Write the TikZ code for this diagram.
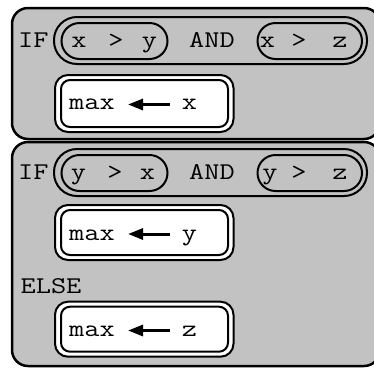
\documentclass[tikz,border=0pt]{standalone}
\usepackage{fontspec}
\usepackage{graphicx}
\usetikzlibrary{arrows.meta}
\definecolor{boxgray}{RGB}{194,194,194}
\newcommand{\wtxt}[1]{\scalebox{1.23}[1]{#1}}
\begin{document}
\begin{tikzpicture}[x=1pt,y=-1pt,
  outerbox/.style={draw, line width=2.5pt, fill=boxgray, rounded corners=16pt, inner sep=0pt, outer sep=0pt, minimum width=368pt},
  bigpill/.style={draw, line width=2pt, rounded corners=23pt, inner sep=0pt, outer sep=0pt, minimum width=313pt, minimum height=47pt},
  pill/.style={draw, line width=2pt, rounded corners=18pt, inner sep=0pt, outer sep=0pt, minimum height=36pt},
  asgout/.style={draw, line width=2pt, fill=white, rounded corners=13pt, inner sep=0pt, outer sep=0pt, minimum width=178.5pt},
  asgin/.style={draw, line width=2pt, rounded corners=9pt, inner sep=0pt, outer sep=0pt, minimum width=167pt},
  txt/.style={font=\ttfamily\fontsize{24}{24}\selectfont, anchor=base, inner sep=0pt, text=black},
  arr/.style={line width=3pt, -{Triangle[length=15pt,width=11pt]}}
]
\useasboundingbox (0,0) rectangle (374,368);
\clip (0,0) rectangle (374,368);

% outer boxes
\node[outerbox, minimum height=131pt] (box1) at (196,73.5) {};
\node[outerbox, minimum height=224pt] (box2) at (196,254) {};

% condition row 1
\node[bigpill] (cond1) at (210.5,40.5) {};
\node[pill, minimum width=106pt] (c1a) at (114.5,41) {};
\node[pill, minimum width=104.5pt] (c1b) at (309.75,41) {};
\node[txt] (if1) at (33.4,47) {\wtxt{IF}};
\node[txt] (c1ax) at (79,47.5) {\wtxt{x}};
\node[txt] (c1ag) at (116,47.5) {\wtxt{>}};
\node[txt] (c1ay) at (149.5,47.5) {\wtxt{y}};
\node[txt] (and1) at (212,47.5) {\wtxt{AND}};
\node[txt] (c1bx) at (267.5,47.5) {\wtxt{x}};
\node[txt] (c1bg) at (299,47.5) {\wtxt{>}};
\node[txt] (c1bz) at (340,47.5) {\wtxt{z}};

% assignment 1
\node[asgout, minimum height=57pt] (s1o) at (144.25,103.5) {};
\node[asgin, minimum height=47pt] (s1i) at (144.5,103.5) {};
\node[txt] (m1) at (92,109) {\wtxt{max}};
\node[txt] (v1) at (189.5,109) {\wtxt{x}};
\coordinate (a1s) at (170,104.5);
\coordinate (a1e) at (128,104.5);
\draw[arr] (a1s) -- (a1e);

% condition row 2
\node[bigpill] (cond2) at (210.5,172.5) {};
\node[pill, minimum width=106pt] (c2a) at (114.5,173) {};
\node[pill, minimum width=104.5pt] (c2b) at (309.75,173) {};
\node[txt] (if2) at (33.4,179) {\wtxt{IF}};
\node[txt] (c2ay) at (78.5,179.5) {\wtxt{y}};
\node[txt] (c2ag) at (115,179.5) {\wtxt{>}};
\node[txt] (c2ax) at (147.5,179.5) {\wtxt{x}};
\node[txt] (and2) at (212,179.5) {\wtxt{AND}};
\node[txt] (c2by) at (270,179.5) {\wtxt{y}};
\node[txt] (c2bg) at (299,179.5) {\wtxt{>}};
\node[txt] (c2bz) at (340,179.5) {\wtxt{z}};

% assignment 2
\node[asgout, minimum height=55pt] (s2o) at (144.25,232.5) {};
\node[asgin, minimum height=45pt] (s2i) at (144.5,232.5) {};
\node[txt] (m2) at (92,240) {\wtxt{max}};
\node[txt] (v2) at (189.5,240) {\wtxt{y}};
\coordinate (a2s) at (170,234);
\coordinate (a2e) at (128,234);
\draw[arr] (a2s) -- (a2e);

% else
\node[txt] (else) at (51,293.7) {\wtxt{ELSE}};

% assignment 3
\node[asgout, minimum height=55pt] (s3o) at (144.25,329.2) {};
\node[asgin, minimum height=45pt] (s3i) at (144.5,329.2) {};
\node[txt] (m3) at (92,336.5) {\wtxt{max}};
\node[txt] (v3) at (189.5,336.5) {\wtxt{z}};
\coordinate (a3s) at (170,330.5);
\coordinate (a3e) at (128,330.5);
\draw[arr] (a3s) -- (a3e);
\end{tikzpicture}
\end{document}
